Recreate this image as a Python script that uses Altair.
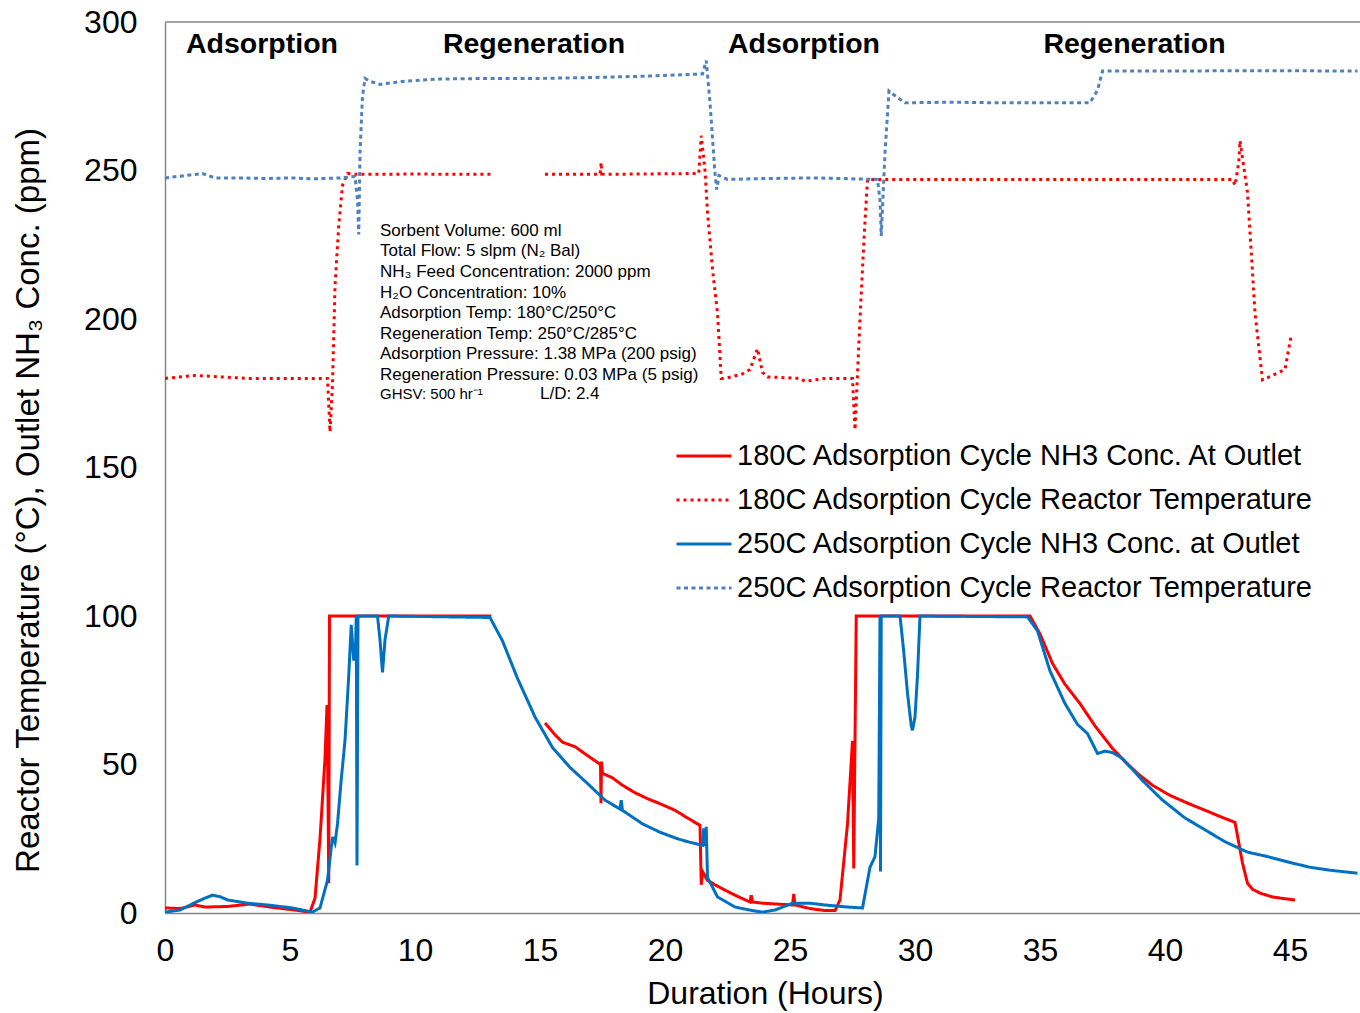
import altair as alt
import pandas as pd

# ---------------- data (hours, value) ----------------
S1 = "180C Adsorption Cycle NH3 Conc. At Outlet"
S2 = "180C Adsorption Cycle Reactor Temperature"
S3 = "250C Adsorption Cycle NH3 Conc. at Outlet"
S4 = "250C Adsorption Cycle Reactor Temperature"
series_names = [S1, S2, S3, S4]
series_colors = ["#FF0000", "#FF0000", "#0070C0", "#4F81BD"]
series_dashes = [[1, 0], [3, 4], [1, 0], [4, 3.5]]

# 180C NH3 outlet (segment A, segment B)
red_nh3_a_t = [0, 0.6, 1.2, 1.6, 2.5, 3.4, 4.2, 5.0, 5.8, 6.0, 6.2, 6.4, 6.48, 6.52, 6.55, 6.58, 9.0, 13.05]
red_nh3_a_v = [1.7, 1.5, 2.7, 2.0, 2.2, 3.0, 2.0, 1.2, 0.3, 5, 25, 52, 70, 40, 10, 100, 100, 100]
red_nh3_b_t = [15.2, 15.6, 15.9, 16.4, 16.9, 17.3, 17.42, 17.44, 17.46, 17.5, 17.9, 18.3, 18.8, 19.3, 19.8,
               20.4, 20.9, 21.4, 21.45, 21.5, 21.7, 22.0, 22.4, 22.8, 23.4, 23.45, 23.5, 23.9, 24.5, 25.1,
               25.15, 25.2, 25.8, 26.4, 26.8, 27.0, 27.3, 27.5, 27.55, 27.6, 27.65, 34.6, 35.0, 35.5, 36.0,
               36.6, 37.2, 37.9, 38.4, 38.9, 39.5, 40.2, 40.9, 41.6, 42.2, 42.8, 42.9, 43.1, 43.3, 43.5,
               43.8, 44.3, 44.8, 45.2]
red_nh3_b_v = [64, 60, 57.5, 56, 53, 50.7, 50, 37, 51, 47, 45.5, 43, 40.5, 38.5, 36.8,
               34.6, 32, 29.5, 9.5, 14, 11, 9.5, 7.7, 6, 3.7, 6, 3.7, 3.3, 3.0, 2.7,
               6.4, 2.7, 1.5, 0.8, 0.8, 4.4, 30, 58, 15, 58, 100, 100, 94, 84, 77,
               70.5, 63, 55.4, 51, 47, 43, 39.6, 37, 34.6, 32.5, 30.5, 26, 16.8, 10, 8,
               6.7, 5.4, 4.8, 4.4]

# 250C NH3 outlet
blue_nh3_t = [0, 0.6, 1.25, 1.6, 1.9, 2.2, 2.5, 3.3, 4.1, 5.1, 5.9, 6.2, 6.5, 6.7, 6.8, 6.9, 7.05, 7.2,
              7.35, 7.45, 7.55, 7.62, 7.65, 7.68, 7.72, 8.5, 8.6, 8.7, 8.8, 8.95, 13.0, 13.5, 14.1, 14.8,
              15.5, 16.2, 16.9, 17.6, 18.2, 18.25, 18.3, 18.4, 19.1, 19.8, 20.5, 21.0, 21.5, 21.55, 21.6,
              21.65, 21.7, 22.1, 22.8, 23.5, 23.9, 24.4, 25.1, 25.8, 26.4, 27.3, 27.9, 28.2, 28.4, 28.55,
              28.6, 28.62, 28.65, 29.4, 29.55, 29.7, 29.85, 29.9, 30.0, 30.1, 30.2, 34.5, 34.9, 35.4,
              36.0, 36.5, 36.9, 37.3, 37.6, 37.9, 38.3, 39.1, 39.9, 40.8, 41.6, 42.4, 43.3, 44.1, 45.0,
              45.8, 46.6, 47.7]
blue_nh3_v = [0.3, 1.0, 3.7, 5, 6, 5.5, 4.4, 3.3, 2.7, 1.7, 0.3, 1.7, 11, 25.6, 23.5, 30, 45, 58,
              80, 97, 85, 88, 100, 16, 100, 100, 92, 81, 92, 100, 99.5, 91.6, 79, 66,
              55.7, 49, 43.6, 38, 35, 38, 34.5, 34, 30, 27.2, 25, 23.8, 22.8, 28.5, 22.5,
              29, 12, 5.4, 2, 0.8, 0.3, 1, 3.3, 3.3, 2.7, 2, 1.7, 15.4, 19, 32,
              100, 14, 100, 100, 88, 74, 63, 61.5, 66, 80, 100, 99.7, 95, 81.5,
              70.5, 63.5, 60.4, 53.7, 54.5, 54, 52, 44.6, 38, 32, 28, 24, 20.5, 19, 17,
              15.4, 14.4, 13.4]

# 180C reactor temperature (segment A, segment B)
red_temp_a_t = [0, 1.2, 3.3, 6.5, 6.6, 6.7, 6.8, 6.95, 7.1, 7.3, 7.6, 10.0, 13.1]
red_temp_a_v = [180, 181, 180, 180, 162, 178, 211, 231.5, 245, 249, 248.7, 248.8, 248.7]
red_temp_b_t = [15.2, 17.4, 17.45, 17.47, 17.5, 21.35, 21.45, 21.6, 21.7, 21.9, 22.1, 22.25, 22.4, 23.1,
                23.4, 23.7, 23.9, 24.1, 25.4, 25.6, 26.4, 27.5, 27.6, 27.8, 27.96, 28.1, 28.5, 35.0,
                42.7, 42.8, 42.95, 43.0, 43.3, 43.45, 43.6, 43.9, 44.3, 44.8, 45.05]
red_temp_b_v = [248.7, 248.7, 252.7, 247.7, 248.7, 249, 261.7, 250, 236, 216.8, 202, 180, 180, 181.5,
                183, 190, 182, 180.5, 180, 179, 180, 180, 162.7, 200, 227, 247, 247, 247,
                247, 245, 252.7, 260, 242.6, 222.5, 202, 179.5, 181, 183, 194.6]

# 250C reactor temperature
blue_temp_t = [0, 1.0, 1.5, 2.0, 3.0, 4.0, 5.0, 6.0, 7.0, 7.6, 7.7, 7.75, 7.8, 7.9, 8.0, 8.2, 8.6, 9.5,
               11, 13, 15, 17, 19, 21.5, 21.65, 21.8, 22.0, 22.07, 22.16, 22.5, 24, 26, 28.5, 28.6,
               28.65, 28.8, 28.96, 29.15, 29.6, 31.5, 33.2, 37.0, 37.3, 37.5, 40, 44, 47.7]
blue_temp_v = [247.5, 248.5, 249, 247.5, 247.5, 247.3, 247.5, 247.2, 247.5, 248, 240, 228.5, 256, 275,
               281, 280, 279, 280, 280.8, 281, 281, 281.3, 281.7, 282.5, 287, 272.8, 249, 243.6,
               248.3, 247, 247.3, 247.5, 247, 240, 228, 256, 276.8, 275.5, 272.8, 273, 272.8, 272.8,
               277, 283.5, 283.5, 283.6, 283.5]

phase_names = ["Adsorption", "Regeneration", "Adsorption", "Regeneration"]
phase_t = [3.88, 14.76, 25.56, 38.78]
phase_v = [292.6, 292.6, 292.6, 292.6]

info_lines = [
    "Sorbent Volume: 600 ml",
    "Total Flow: 5 slpm (N\u2082 Bal)",
    "NH\u2083 Feed Concentration: 2000 ppm",
    "H\u2082O Concentration: 10%",
    "Adsorption Temp: 180\u00b0C/250\u00b0C",
    "Regeneration Temp: 250\u00b0C/285\u00b0C",
    "Adsorption Pressure: 1.38 MPa (200 psig)",
    "Regeneration Pressure: 0.03 MPa (5 psig)",
]
ghsv_text = "GHSV: 500 hr\u207b\u00b9"
ld_text = "L/D: 2.4"

# ---------------- build table ----------------
rows = []
def add(series, seg, ts, vs):
    for i, (t, v) in enumerate(zip(ts, vs)):
        rows.append({"series": series, "seg": seg, "i": i, "t": t, "v": v})

add(S1, "s1a", red_nh3_a_t, red_nh3_a_v)
add(S1, "s1b", red_nh3_b_t, red_nh3_b_v)
add(S3, "s3", blue_nh3_t, blue_nh3_v)
add(S2, "s2a", red_temp_a_t, red_temp_a_v)
add(S2, "s2b", red_temp_b_t, red_temp_b_v)
add(S4, "s4", blue_temp_t, blue_temp_v)
df = pd.DataFrame(rows)

FONT = "Liberation Sans"
AXC = "#868686"

legend = alt.Legend(
    title=None, orient="none", legendX=510, legendY=405,
    labelFontSize=29, labelFont=FONT, labelColor="black",
    symbolType="stroke", symbolSize=3025, symbolStrokeWidth=3,
    rowPadding=-14, labelOffset=4, padding=0, labelLimit=0,
)

xscale = alt.Scale(domain=[0, 47.8], nice=False, zero=False)
yscale = alt.Scale(domain=[0, 300], nice=False)

lines = alt.Chart(df).mark_line(strokeWidth=3, clip=True).encode(
    x=alt.X("t:Q", scale=xscale, axis=alt.Axis(
        values=list(range(0, 50, 5)), title="Duration (Hours)", grid=False, ticks=False,
        labelFlush=False, labelOverlap=False,
        domainColor=AXC, domainWidth=1.5, labelFontSize=32, labelFont=FONT, labelColor="black",
        labelPadding=22, titleFontSize=32, titleFont=FONT, titleFontWeight="normal",
        titleColor="black", titleX=600, titleY=90, titleBaseline="alphabetic")),
    y=alt.Y("v:Q", scale=yscale, axis=alt.Axis(
        values=list(range(0, 301, 50)), title="Reactor Temperature (\u00b0C), Outlet NH\u2083 Conc. (ppm)",
        grid=False, ticks=False, labelFlush=False, labelOverlap=False,
        domainColor=AXC, domainWidth=1.5, labelFontSize=32, labelFont=FONT,
        labelColor="black", labelPadding=28, titleFontSize=33, titleFont=FONT,
        titleFontWeight="normal", titleColor="black", titleAngle=270, titleX=-127, titleY=478,
        titleBaseline="alphabetic", titleAlign="center")),
    color=alt.Color("series:N", scale=alt.Scale(domain=series_names, range=series_colors), legend=legend),
    strokeDash=alt.StrokeDash("series:N", scale=alt.Scale(domain=series_names, range=series_dashes), legend=legend),
    detail="seg:N",
    order="i:Q",
)

top_rule = alt.Chart(pd.DataFrame({"v": [300]})).mark_rule(color=AXC, strokeWidth=1.5).encode(
    y=alt.Y("v:Q", scale=yscale)
)

phase_df = pd.DataFrame({"name": phase_names, "t": phase_t, "v": phase_v})
phases = alt.Chart(phase_df).mark_text(font=FONT, fontSize=28.5, fontWeight="bold", color="black",
                                       align="center", baseline="middle").encode(
    x=alt.X("t:Q", scale=xscale), y=alt.Y("v:Q", scale=yscale), text="name:N")

info = alt.Chart(pd.DataFrame({"t": [8.6], "v": [232.4]})).mark_text(
    font=FONT, fontSize=17, color="black", align="left", baseline="top", lineHeight=20.6
).encode(x=alt.X("t:Q", scale=xscale), y=alt.Y("v:Q", scale=yscale), text=alt.value(info_lines))

ghsv = alt.Chart(pd.DataFrame({"t": [8.6, 15.0], "v": [174.7, 174.7], "s": [ghsv_text, ld_text],
                               "fs": [15, 17]})).mark_text(
    font=FONT, color="black", align="left", baseline="middle"
).encode(x=alt.X("t:Q", scale=xscale), y=alt.Y("v:Q", scale=yscale), text="s:N",
         size=alt.Size("fs:Q", scale=None, legend=None))

chart = alt.layer(top_rule, lines, phases, info, ghsv).properties(
    width=1195, height=891,
    padding={"left": 165, "top": 22, "right": 0, "bottom": 100},
    autosize=alt.AutoSizeParams(type="none"),
    background="white",
).configure_view(stroke=None)

chart.save("out.html", embed_options={"renderer": "svg", "actions": False})
